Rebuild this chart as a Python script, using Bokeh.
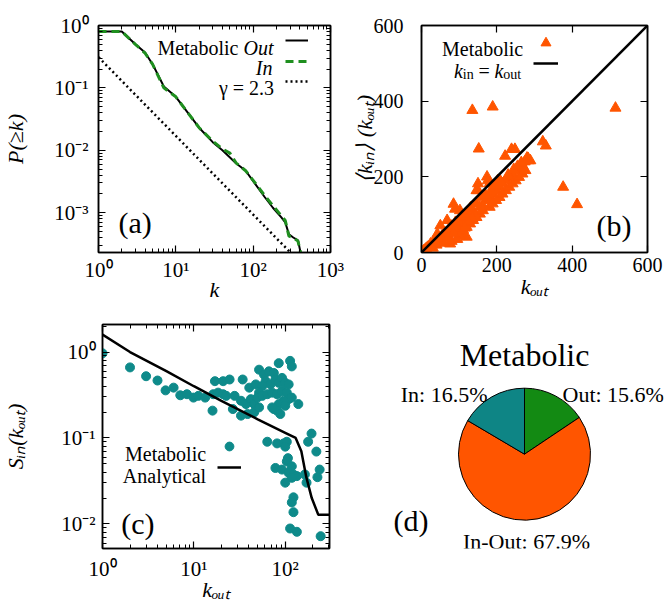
import math
from bokeh.plotting import figure
from bokeh.models import (Label, LogAxis, LinearAxis, FixedTicker, Legend, LegendItem,
                          ColumnDataSource, Range1d, CustomJSTickFormatter)
from bokeh.layouts import row, column
from bokeh.embed import file_html
from bokeh.resources import INLINE

FONT = "Liberation Serif"

# ---------------- data ----------------
# (a) cumulative degree distributions P(>=k)
a_out_k = [1, 2, 3, 4, 5, 7, 10, 15, 20, 30, 40, 60, 80, 100, 140, 180, 230, 260, 290, 330, 380, 420]
a_out_p = [0.80, 0.80, 0.50, 0.37, 0.24, 0.105, 0.072, 0.037, 0.023, 0.0135, 0.010, 0.0062, 0.0047,
           0.0032, 0.0018, 0.0012, 0.00085, 0.00070, 0.00045, 0.00040, 0.00036, 0.00020]
a_in_k = [1, 2, 3, 4, 5, 7, 10, 15, 20, 30, 40, 50, 60, 80, 100, 140, 180, 230, 260, 290, 330, 380, 420]
a_in_p = [0.80, 0.80, 0.50, 0.36, 0.24, 0.10, 0.072, 0.037, 0.023, 0.014, 0.0105, 0.009, 0.0063,
          0.0047, 0.0033, 0.0019, 0.0013, 0.0009, 0.00075, 0.00042, 0.00040, 0.00035, 0.00020]
a_fit_k = [1, 450]
a_fit_p = [0.31, 0.00014]
a_xticks = [1, 10, 100, 1000]
a_yticks = [0.001, 0.01, 0.1, 1]

# (b) <k_in>(k_out)
b_kout = [135, 189, 515, 152, 222, 239, 248, 322, 330, 376, 413, 283, 274, 150, 174, 150,
          285, 268, 259, 242, 233, 224, 215, 207, 198, 189, 181, 172, 163, 155, 146, 176, 181, 202,
          137, 129, 120, 111, 102, 94, 85, 89, 102, 68, 50, 111, 120, 98, 76, 68, 42, 33, 16, 0,
          24, 50, 60, 81, 120, 129, 137, 146, 155, 163, 141, 181, 189, 198, 207, 215, 224, 233,
          242, 250, 259, 268, 276, 289, 3, 6, 9, 12, 20, 28, 36, 45, 55, 65, 72, 80, 90, 105,
          115, 125, 130, 145, 160, 170, 185, 195, 210, 230, 245, 255, 265, 280, 90, 100, 110,
          80, 95, 60, 40, 30, 70, 85, 135, 125, 115]
b_kin = [376, 385, 382, 274, 255, 273, 273, 293, 282, 173, 127, 249, 240, 182, 200, 164,
         243, 230, 217, 208, 199, 190, 182, 173, 164, 155, 146, 138, 124, 120, 164, 190, 182, 190,
         111, 102, 93, 85, 76, 71, 128, 115, 111, 85, 71, 45, 41, 58, 23, 49, 49, 32, 14, 0,
         23, 32, 41, 63, 67, 76, 85, 93, 102, 111, 98, 120, 129, 138, 146, 155, 164, 173,
         182, 190, 199, 208, 217, 243, 2, 5, 7, 10, 15, 20, 28, 36, 45, 52, 60, 70, 80, 95,
         100, 110, 118, 130, 145, 152, 165, 175, 188, 205, 220, 228, 238, 250, 60, 45, 60,
         30, 35, 25, 20, 12, 38, 50, 90, 80, 65]
b_diag = [0, 600]
b_ticks = [0, 200, 400, 600]

# (c) S_in(k_out)
c_kout = [1.0, 2.0, 3.0, 4.0, 4.9, 6.0, 7.1,
          8.4, 9.9, 11.2, 13.3, 16.3, 18.4, 20.9, 22.6,
          17, 20.9, 24.6, 34.2, 40.4, 47.6, 51.7, 58.6, 66.2, 75, 84.9, 113, 118, 61, 69, 78,
          84.9, 92.2, 100, 109, 56.1, 51.7,
          27.9, 32.8, 37.2, 42, 45.7, 49.6, 56.1, 63.5, 71.9, 81.3, 92.2, 104, 109, 96.1, 84.9,
          75, 81.3, 100, 118, 139, 88.3, 71.9,
          16, 26.7, 32.8, 38.7, 45.7, 51.7,
          63.6, 81.4, 96, 104, 100, 194, 178, 219, 107, 104, 78.1, 92.2, 118, 109, 123, 134, 118,
          100, 164, 171, 238, 225, 123, 118, 123, 113, 134, 244]
c_s = [0.966, 0.662, 0.523, 0.466, 0.358, 0.385, 0.314,
       0.323, 0.295, 0.309, 0.295, 0.323, 0.337, 0.323, 0.309,
       0.458, 0.458, 0.479, 0.479, 0.385, 0.42, 0.623, 0.546, 0.596, 0.57, 0.742, 0.789, 0.68,
       0.458, 0.42, 0.479, 0.438, 0.50, 0.438, 0.42, 0.402, 0.337,
       0.309, 0.271, 0.248, 0.283, 0.248, 0.295, 0.309, 0.323, 0.337, 0.323, 0.352, 0.337,
       0.283, 0.271, 0.248, 0.217, 0.208, 0.237, 0.295, 0.248, 0.19, 0.227,
       0.208, 0.217, 0.182, 0.19, 0.199, 0.227,
       0.0904, 0.0865, 0.0865, 0.0904, 0.0793, 0.1125, 0.0904, 0.0695, 0.0583, 0.0534, 0.0448,
       0.0429, 0.0468, 0.0393, 0.0376, 0.036, 0.0344, 0.0302, 0.0376, 0.0302, 0.0429, 0.035,
       0.0204, 0.0178, 0.0137, 0.00885, 0.0081, 0.0072]
c_an_k = [1, 2, 5, 10, 20, 50, 100, 130, 150, 170, 195, 230, 310]
c_an_s = [1.6, 1.0, 0.6, 0.40, 0.27, 0.165, 0.115, 0.10, 0.07, 0.035, 0.02, 0.0128, 0.0128]
c_xticks = [1, 10, 100]
c_yticks = [0.01, 0.1, 1]

# (d) node classes
d_labels = ["Out", "In-Out", "In"]
d_values = [15.6, 67.9, 16.5]
d_colors = ["#138a13", "#ff5500", "#0e8585"]

ORANGE = "#ff5500"
TEAL = "#0e8a8a"
GREEN = "#1f8f1f"

# ---------------- helpers ----------------
class Geo:
    """Frame geometry (page pixels) of one figure, for placing in-frame texts."""
    def __init__(self, left, top, w, h, xr, yr, xlog=False, ylog=False):
        self.left, self.top, self.w, self.h = left, top, w, h
        self.xr, self.yr, self.xlog, self.ylog = xr, yr, xlog, ylog

    @staticmethod
    def _map(t, r, log):
        if log:
            a, b = math.log10(r[0]), math.log10(r[1])
            return 10 ** (a + t * (b - a))
        return r[0] + t * (r[1] - r[0])

    def x(self, px):
        return self._map((px - self.left) / self.w, self.xr, self.xlog)

    def y(self, py):
        return self._map((self.top + self.h - py) / self.h, self.yr, self.ylog)


W_RM = {' ': .25, '(': .333, ')': .333, '=': .564, '.': .25, '%': .833, ':': .278, '-': .333,
        'a': .444, 'b': .5, 'c': .444, 'd': .5, 'e': .444, 'i': .278, 'l': .278, 'n': .5,
        'o': .5, 't': .278, 'u': .5, 'y': .5, 'M': .889, 'O': .722, 'I': .333, 'A': .722,
        'γ': .411}
W_IT = {'k': .444, 'O': .722, 'u': .5, 't': .278, 'I': .333, 'n': .5}


def text_w(s, size, italic=False):
    tbl = W_IT if italic else W_RM
    return sum(tbl.get(c, W_RM.get(c, .5)) for c in s) * size


def mk_label(p, x, y, text, size, italic=False, align="left"):
    p.add_layout(Label(x=x, y=y, text=text, text_font=FONT, text_font_size=f"{size}px",
                       text_font_style="italic" if italic else "normal", text_color="black",
                       text_align=align, text_baseline="alphabetic"))


def rich_h(p, g, pieces, x_px, y_base, align="left"):
    total = sum(text_w(t, s, it) + gap for t, s, it, dy, gap in pieces)
    if align == "right":
        x0 = x_px - total
    elif align == "center":
        x0 = x_px - total / 2
    else:
        x0 = x_px
    for t, s, it, dy, gap in pieces:
        mk_label(p, g.x(x0), g.y(y_base + dy), t, s, it)
        x0 += text_w(t, s, it) + gap


def legend_sample(p, g, renderer, x0, x1, yc, h):
    leg = Legend(items=[LegendItem(label=" ", renderers=[renderer])],
                 location=(x0 - g.left, (g.top + g.h) - (yc + h / 2)),
                 glyph_width=int(round(x1 - x0)), glyph_height=h, label_height=h,
                 padding=0, margin=0, spacing=0, label_standoff=0, label_width=0,
                 label_text_font_size="1px", background_fill_alpha=0, border_line_alpha=0)
    p.add_layout(leg)


BLANK = "return ''"
POW10 = """
const sup = {"0":"\u2070","1":"\u00b9","2":"\u00b2","3":"\u00b3","4":"\u2074","5":"\u2075",
             "6":"\u2076","7":"\u2077","8":"\u2078","9":"\u2079","-":"\u207b"};
const e = Math.round(Math.log10(tick));
return "10" + String(e).split("").map(c => sup[c]).join("");
"""


def style_axis(ax, ticks, minor, labels=False, size=20, standoff=5, fmt=None):
    ax.ticker = FixedTicker(ticks=ticks, minor_ticks=minor)
    ax.major_tick_in = 7
    ax.major_tick_out = 0
    ax.minor_tick_in = 4
    ax.minor_tick_out = 0
    ax.axis_line_color = "black"
    ax.axis_line_width = 1.5
    ax.major_tick_line_color = "black"
    ax.major_tick_line_width = 1.2
    ax.minor_tick_line_color = "black" if minor else None
    ax.minor_tick_line_width = 1
    if labels:
        if fmt is not None:
            ax.formatter = CustomJSTickFormatter(code=fmt)
        ax.major_label_text_font = FONT
        ax.major_label_text_font_size = f"{size}px"
        ax.major_label_text_color = "black"
        ax.major_label_standoff = standoff
    else:
        ax.formatter = CustomJSTickFormatter(code=BLANK)
        ax.major_label_text_font_size = "0px"
        ax.major_label_standoff = 0


def axis_title(ax, text, size, standoff):
    ax.axis_label = text
    ax.axis_label_text_font = FONT
    ax.axis_label_text_font_size = f"{size}px"
    ax.axis_label_text_font_style = "italic"
    ax.axis_label_text_color = "black"
    ax.axis_label_standoff = standoff


def log_minor(lo, hi):
    return [m * 10 ** e for e in range(lo, hi) for m in range(2, 10)]


def base_fig(width, height, xr, yr, xlog, ylog, bl, br, bt, bb):
    p = figure(width=width, height=height,
               x_axis_type="log" if xlog else "linear", y_axis_type="log" if ylog else "linear",
               x_range=Range1d(*xr), y_range=Range1d(*yr), output_backend="svg",
               toolbar_location=None, min_border_left=bl, min_border_right=br,
               min_border_top=bt, min_border_bottom=bb)
    p.xgrid.grid_line_color = None
    p.ygrid.grid_line_color = None
    p.outline_line_color = "black"
    p.outline_line_width = 1.5
    p.background_fill_color = "white"
    p.border_fill_color = "white"
    return p


# ---------------- (a) ----------------
a_xr, a_yr = (1, 1000), (0.00023, 1)
pa = base_fig(348, 304, a_xr, a_yr, True, True, 98, 18, 25, 52)
ga = Geo(98, 25, 232, 227, a_xr, a_yr, True, True)
style_axis(pa.xaxis[0], a_xticks, log_minor(0, 3), labels=True, size=21, standoff=5, fmt=POW10)
style_axis(pa.yaxis[0], a_yticks, log_minor(-4, 0), labels=True, size=21, standoff=10, fmt=POW10)
axis_title(pa.xaxis[0], "k", 22, -8)
axis_title(pa.yaxis[0], "P(\u2265k)", 22, 23)
ax = LogAxis(); style_axis(ax, a_xticks, log_minor(0, 3)); pa.add_layout(ax, "above")
ay = LogAxis(); style_axis(ay, a_yticks, log_minor(-4, 0)); pa.add_layout(ay, "right")

r_fit = pa.line(a_fit_k, a_fit_p, line_color="black", line_width=2.5, line_dash="2 3")
r_out = pa.line(a_out_k, a_out_p, line_color="black", line_width=2)
r_in = pa.line(a_in_k, a_in_p, line_color=GREEN, line_width=3, line_dash="8 5")

rich_h(pa, ga, [("Metabolic", 20, False, 0, 5), ("Out", 20, True, 0, 0)], 273, 47, "right")
rich_h(pa, ga, [("In", 20, True, 0, 0)], 272, 67, "right")
rich_h(pa, ga, [("\u03b3 = 2.3", 20, False, 0, 0)], 273, 87, "right")
legend_sample(pa, ga, r_out, 285, 308, 40, 16)
legend_sample(pa, ga, r_in, 285, 308, 61, 16)
legend_sample(pa, ga, r_fit, 285, 308, 81, 16)
mk_label(pa, ga.x(118), ga.y(222), "(a)", 30)

# ---------------- (b) ----------------
b_xr, b_yr = (0, 600), (0, 600)
pb = base_fig(321, 304, b_xr, b_yr, False, False, 69, 22, 25, 52)
gb = Geo(417, 25, 230, 227, b_xr, b_yr)
style_axis(pb.xaxis[0], b_ticks, [], labels=True, size=20, standoff=5)
style_axis(pb.yaxis[0], b_ticks, [], labels=True, size=20, standoff=18)
axis_title(pb.xaxis[0], "k\u2092\u1d64\u209c", 22, -1)
axis_title(pb.yaxis[0], "\u27e8k\u1d62\u2099\u27e9 (k\u2092\u1d64\u209c)", 22, -6)
bx = LinearAxis(); style_axis(bx, b_ticks, []); pb.add_layout(bx, "above")
by = LinearAxis(); style_axis(by, b_ticks, []); pb.add_layout(by, "right")

r_tri = pb.scatter(b_kout, b_kin, marker="triangle", size=11, fill_color=ORANGE, line_color=ORANGE)
r_diag = pb.line(b_diag, b_diag, line_color="black", line_width=2.5)

rich_h(pb, gb, [("Metabolic", 20, False, 0, 0)], 519, 48, "right")
rich_h(pb, gb, [("k", 20, True, 0, 0), ("in", 14, False, 4, 5), ("=", 20, False, 0, 5),
                ("k", 20, True, 0, 0), ("out", 14, False, 4, 0)], 518, 70, "right")
legend_sample(pb, gb, r_tri, 529, 554, 42, 25)
legend_sample(pb, gb, r_diag, 529, 554, 63, 16)
mk_label(pb, gb.x(595), gb.y(225), "(b)", 30)

# ---------------- (c) ----------------
c_xr, c_yr = (1, 305), (0.00518, 2.09)
pc = base_fig(348, 300, c_xr, c_yr, True, True, 98, 19, 20, 52)
gc = Geo(98, 324, 231, 228, c_xr, c_yr, True, True)
style_axis(pc.xaxis[0], c_xticks, log_minor(0, 3), labels=True, size=21, standoff=8, fmt=POW10)
style_axis(pc.yaxis[0], c_yticks, log_minor(-3, 1), labels=True, size=21, standoff=7, fmt=POW10)
axis_title(pc.xaxis[0], "k\u2092\u1d64\u209c", 22, -7)
axis_title(pc.yaxis[0], "S\u1d62\u2099(k\u2092\u1d64\u209c)", 22, 30)
cx = LogAxis(); style_axis(cx, c_xticks, log_minor(0, 3)); pc.add_layout(cx, "above")
cy = LogAxis(); style_axis(cy, c_yticks, log_minor(-3, 1)); pc.add_layout(cy, "right")

r_dot = pc.scatter(c_kout, c_s, marker="circle", size=9, fill_color=TEAL, line_color=TEAL)
r_an = pc.line(c_an_k, c_an_s, line_color="black", line_width=2.5)

rich_h(pc, gc, [("Metabolic", 20, False, 0, 0)], 202, 456, "right")
rich_h(pc, gc, [("Analytical", 20, False, 0, 0)], 202, 478, "right")
legend_sample(pc, gc, r_dot, 213, 237, 450, 22)
legend_sample(pc, gc, r_an, 213, 237, 471, 16)
mk_label(pc, gc.x(117), gc.y(527), "(c)", 30)

# ---------------- (d) ----------------
R = 66.0
CX, CY = 524, 456
d_frame = (348, 324, 321, 228)
d_xr = ((d_frame[0] - CX) / R, (d_frame[0] + d_frame[2] - CX) / R)
d_yr = ((CY - d_frame[1] - d_frame[3]) / R, (CY - d_frame[1]) / R)
pdd = figure(width=321, height=300, x_range=Range1d(*d_xr), y_range=Range1d(*d_yr),
             output_backend="svg", toolbar_location=None, x_axis_location=None,
             y_axis_location=None, min_border_left=0, min_border_right=0,
             min_border_top=20, min_border_bottom=52)
pdd.xgrid.grid_line_color = None
pdd.ygrid.grid_line_color = None
pdd.outline_line_color = None
gd = Geo(*d_frame, d_xr, d_yr)

total = sum(d_values)
starts, ends = [], []
ang = math.pi / 2
for v in d_values:
    nxt = ang - 2 * math.pi * v / total
    starts.append(ang)
    ends.append(nxt)
    ang = nxt
src = ColumnDataSource(dict(start=starts, end=ends, color=d_colors))
pdd.wedge(x=0, y=0, radius=1, start_angle="start", end_angle="end", direction="clock",
          fill_color="color", line_color="black", line_width=1, source=src)

mk_label(pdd, gd.x(524), gd.y(355), "Metabolic", 32, align="center")
lab = {k: f"{k}: {v}%" for k, v in zip(d_labels, d_values)}
mk_label(pdd, gd.x(487), gd.y(395), lab["In"], 22, align="right")
mk_label(pdd, gd.x(562), gd.y(395), lab["Out"], 22, align="left")
mk_label(pdd, gd.x(526), gd.y(545), lab["In-Out"], 22, align="center")
mk_label(pdd, gd.x(393), gd.y(524), "(d)", 30)

layout = column(row(pa, pb), row(pc, pdd))
open("out.html", "w").write(file_html(layout, INLINE))
